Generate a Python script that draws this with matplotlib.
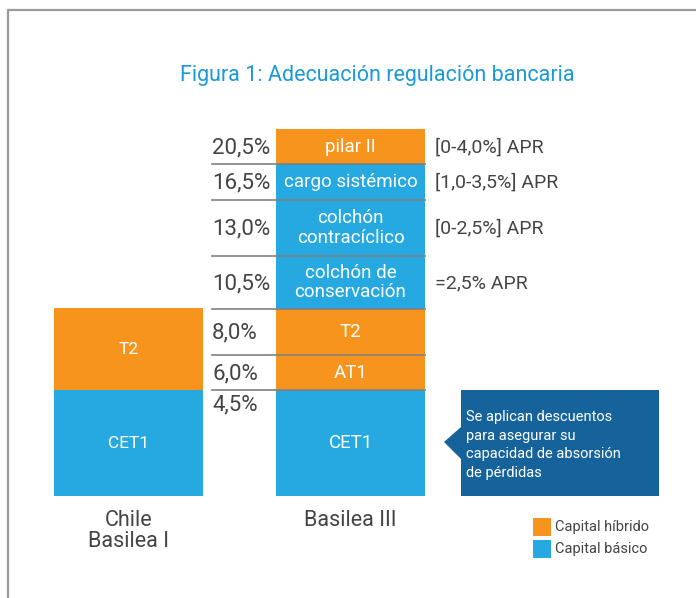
import matplotlib
matplotlib.use("Agg")
import matplotlib.pyplot as plt
from matplotlib import font_manager
from matplotlib.patches import Polygon, Rectangle

# fonts: condensed-ish look of the original
names = {f.name for f in font_manager.fontManager.ttflist}
FONT = "Roboto" if "Roboto" in names else "DejaVu Sans"
plt.rcParams["font.family"] = [FONT, "DejaVu Sans"]

# data
categories = ["Chile\nBasilea I", "Basilea III"]
chile_labels = ["CET1", "T2"]
chile_kind = ["básico", "híbrido"]
basilea_labels = ["CET1", "AT1", "T2", "colchón de\nconservación",
                  "colchón\ncontracíclico", "cargo sistémico", "pilar II"]
basilea_kind = ["básico", "híbrido", "híbrido", "básico", "básico", "básico", "híbrido"]
basilea_levels = [4.5, 6.0, 8.0, 10.5, 13.0, 16.5, 20.5]
basilea_ranges = ["", "", "", "=2,5% APR", "[0-2,5%] APR", "[1,0-3,5%] APR", "[0-4,0%] APR"]
legend_labels = ["Capital híbrido", "Capital básico"]

# schematic heights of the blocks (not to scale in the original)
chile_h = [106, 82]
basilea_h = [106, 35, 46, 53, 56, 36, 35]

ORANGE = "#F7941E"
BLUE = "#25A9E0"
DARK = "#16639C"
GREY = "#444444"
colors = {"híbrido": ORANGE, "básico": BLUE}

fig = plt.figure(figsize=(6.96, 5.98), dpi=100)
ax = fig.add_axes([0, 0, 1, 1])
ax.set_xlim(0, 696)
ax.set_ylim(-102, 496)
ax.axis("off")

bar_x = [128.5, 350.5]
bar_w = 149

# Chile bar
bottom = 0
for lab, kind, h in zip(chile_labels, chile_kind, chile_h):
    ax.bar(bar_x[0], h, bar_w, bottom=bottom, color=colors[kind], linewidth=0)
    ax.text(bar_x[0], bottom + h / 2, lab, color="white", fontsize=12.5,
            ha="center", va="center")
    bottom += h

# Basilea III bar
bottom = 0
for i, (lab, kind, h) in enumerate(zip(basilea_labels, basilea_kind, basilea_h)):
    ax.bar(bar_x[1], h, bar_w, bottom=bottom, color=colors[kind], linewidth=0)
    ax.text(bar_x[1], bottom + h / 2, lab, color="white", fontsize=13.5,
            ha="center", va="center", linespacing=1.1)
    lvl = f"{basilea_levels[i]:.1f}".replace(".", ",") + "%"
    if i == 0:
        ax.text(212, bottom + h - 4, lvl, color=GREY, fontsize=16, ha="left", va="top")
    else:
        ax.text(212, bottom + h / 2 - 1, lvl, color=GREY, fontsize=16,
                ha="left", va="center")
    if basilea_ranges[i]:
        ax.text(435, bottom + h / 2 - 1, basilea_ranges[i], color=GREY,
                fontsize=14, ha="left", va="center")
    bottom += h
    if i < len(basilea_h) - 1:
        ax.plot([212, 425], [bottom, bottom], color="#808080", lw=1.2)

# category labels
ax.text(bar_x[0], -14, categories[0], color=GREY, fontsize=15.5, ha="center",
        va="top", linespacing=1.0)
ax.text(bar_x[1], -14, categories[1], color=GREY, fontsize=15.5, ha="center", va="top")

# callout
ax.add_patch(Rectangle((461, 0), 198, 106, color=DARK, lw=0))
ax.add_patch(Polygon([(444, 54), (461, 69), (461, 37)], closed=True, color=DARK, lw=0))
ax.text(466, 51, "Se aplican descuentos\npara asegurar su\ncapacidad de absorsión\nde pérdidas",
        color="white", fontsize=10.5, ha="left", va="center", linespacing=1.42)

# legend
for j, (lab, c) in enumerate(zip(legend_labels, [ORANGE, BLUE])):
    y = -22 - 22 * j
    ax.add_patch(Rectangle((533, y - 18), 18, 18, color=c, lw=0))
    ax.text(555, y - 9, lab, color=GREY, fontsize=10.5, ha="left", va="center")

# title
ax.text(377, 421, "Figura 1: Adecuación regulación bancaria", color="#1B9AD7",
        fontsize=15.5, ha="center", va="center")

# frame
ax.plot([8, 8, 700], [-110, 486, 486], color="#9A9A9A", lw=1.6, clip_on=False)

fig.savefig("out.png", dpi=100)
